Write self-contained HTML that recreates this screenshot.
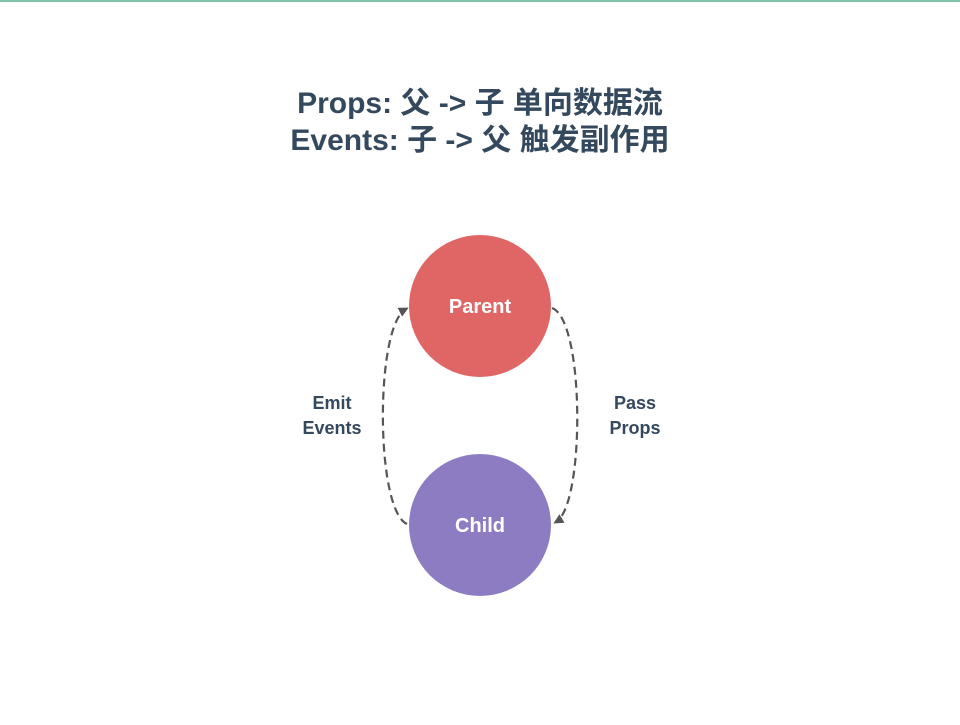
<!DOCTYPE html>
<html><head><meta charset="utf-8"><style>
body{margin:0;width:960px;height:720px;background:#fff;overflow:hidden;font-family:"Liberation Sans","Noto Sans CJK SC",sans-serif}
</style></head><body>
<svg width="960" height="720" xmlns="http://www.w3.org/2000/svg">
<rect x="0" y="0" width="960" height="2" fill="#7fc4a8"/>
<g font-family="Liberation Sans, Noto Sans CJK SC, sans-serif" font-weight="bold" fill="#34495e" text-anchor="middle" font-size="30">
<text x="480" y="113">Props: 父 -&gt; 子 单向数据流</text>
<text x="480" y="150">Events: 子 -&gt; 父 触发副作用</text>
</g>
<defs><marker id="a" markerWidth="10" markerHeight="10" refX="7" refY="5" orient="auto" markerUnits="userSpaceOnUse"><path d="M0,0 L10,5 L0,10 Z" fill="#555"/></marker></defs>
<path d="M552,308 C585,320 585,505 556,522" fill="none" stroke="#555" stroke-width="2.2" stroke-dasharray="8,5" marker-end="url(#a)"/>
<path d="M407,524 C375,510 375,325 406,309" fill="none" stroke="#555" stroke-width="2.2" stroke-dasharray="8,5" marker-end="url(#a)"/>
<circle cx="480" cy="306" r="71" fill="#e06666"/>
<circle cx="480" cy="525" r="71" fill="#8e7cc3"/>
<g font-weight="bold" fill="#fff" text-anchor="middle" font-size="20">
<text x="480" y="313">Parent</text>
<text x="480" y="532">Child</text>
</g>
<g font-weight="bold" fill="#34495e" text-anchor="middle" font-size="18">
<text x="332" y="409">Emit</text>
<text x="332" y="434">Events</text>
<text x="635" y="409">Pass</text>
<text x="635" y="434">Props</text>
</g>
</svg>
</body></html>
